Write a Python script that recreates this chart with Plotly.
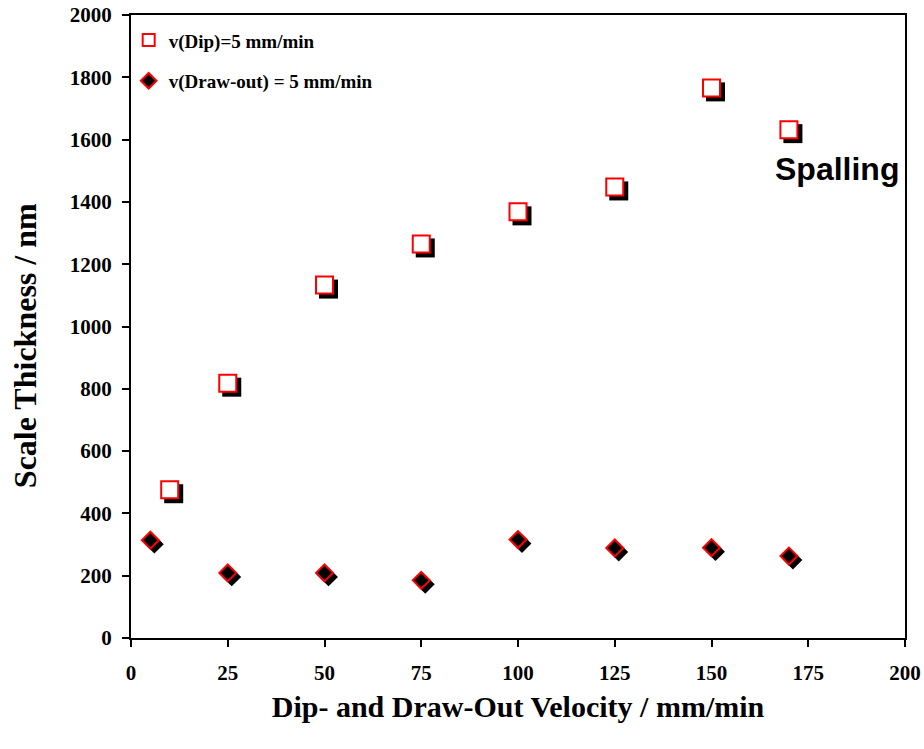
import plotly.graph_objects as go

# Data
dip_x = [10, 25, 50, 75, 100, 125, 150, 170]
dip_y = [476, 818, 1133, 1265, 1368, 1448, 1766, 1632]
draw_x = [5, 25, 50, 75, 100, 125, 150, 170]
draw_y = [314, 209, 209, 185, 316, 289, 290, 263]

x_ticks = [0, 25, 50, 75, 100, 125, 150, 175, 200]
y_ticks = list(range(0, 2001, 200))

# Plot geometry (pixels) used to express the marker drop shadow in data units
W, H = 924, 749
ML, MR, MT, MB = 131, 19, 15, 111
px_x = (W - ML - MR) / 200.0
px_y = (H - MT - MB) / 2000.0
SH = 4  # shadow offset in px
dx = SH / px_x
dy = SH / px_y

serif = "Times New Roman, Liberation Serif, serif"

fig = go.Figure()

# shadows
fig.add_trace(go.Scatter(
    x=[v + dx for v in dip_x], y=[v - dy for v in dip_y], mode="markers",
    marker=dict(symbol="square", size=19, color="black", line=dict(width=0)),
    showlegend=False, hoverinfo="skip"))
fig.add_trace(go.Scatter(
    x=[v + dx for v in draw_x], y=[v - dy for v in draw_y], mode="markers",
    marker=dict(symbol="diamond", size=14.5, color="black", line=dict(width=0)),
    showlegend=False, hoverinfo="skip"))

# main series
fig.add_trace(go.Scatter(
    x=dip_x, y=dip_y, mode="markers", name="<b>v(Dip)=5 mm/min</b>", legendgroup="a",
    marker=dict(symbol="square", size=17, color="white", line=dict(width=2, color="#ff0000"))))
fig.add_trace(go.Scatter(
    x=draw_x, y=draw_y, mode="markers", name="<b>v(Draw-out) = 5 mm/min</b>", legendgroup="b",
    marker=dict(symbol="diamond", size=13, color="black", line=dict(width=2, color="#ff0000"))))

fig.add_annotation(x=166, y=1505, xref="x", yref="y", text="<b>Spalling</b>",
                   showarrow=False, xanchor="left", yanchor="middle",
                   font=dict(family="Arial, Liberation Sans, sans-serif", size=32, color="black"))

# y-axis title (placed as in the reference, slightly below the plot centre)
fig.add_annotation(x=-0.137, y=0.47, xref="paper", yref="paper",
                   text="<b>Scale Thickness / nm</b>", textangle=-90,
                   showarrow=False, xanchor="center", yanchor="middle",
                   font=dict(family=serif, size=32, color="black"))

axis_common = dict(showline=True, linecolor="black", linewidth=2, mirror=True,
                   ticks="outside", ticklen=7, tickwidth=2, tickcolor="black",
                   showgrid=False, zeroline=False, automargin=False,
                   tickfont=dict(family=serif, size=21, color="black"))

fig.update_xaxes(range=[0, 200], tickvals=x_ticks, ticktext=[f"<b>{t}</b>" for t in x_ticks],
                 ticklabelstandoff=8,
                 title=dict(text="<b>Dip- and Draw-Out Velocity / mm/min</b>",
                            font=dict(family=serif, size=30, color="black"), standoff=12),
                 **axis_common)
fig.update_yaxes(range=[0, 2000], tickvals=y_ticks, ticktext=[f"<b>{t}</b>" for t in y_ticks],
                 ticklabelstandoff=6, **axis_common)

fig.update_layout(
    width=W, height=H,
    margin=dict(l=ML, r=MR, t=MT, b=MB),
    paper_bgcolor="white", plot_bgcolor="white",
    legend=dict(x=-0.003, y=0.99, xanchor="left", yanchor="top",
                bgcolor="rgba(0,0,0,0)", itemsizing="constant", itemwidth=30,
                tracegroupgap=13, traceorder="grouped",
                font=dict(family=serif, size=19, color="black")),
)

post = ("document.documentElement.style.margin='0';"
        "document.body.style.margin='0';document.body.style.padding='0';"
        "document.body.style.overflow='hidden';"
        "var d=document.getElementsByClassName('plotly-graph-div')[0];"
        "d.style.position='absolute';d.style.left='0px';d.style.top='0px';")

fig.write_html("out.html", config={"displayModeBar": False}, post_script=post)
